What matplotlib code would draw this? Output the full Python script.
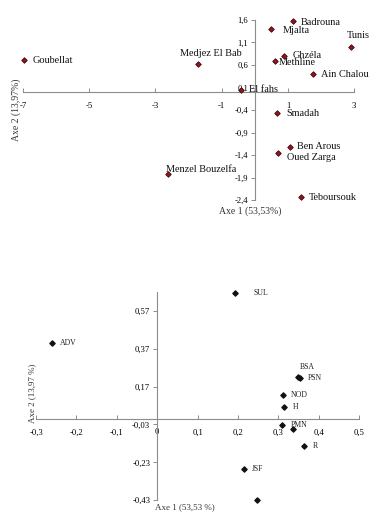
#!/usr/bin/env python3
"""
plot.py - two PCA-style factor maps (Axe 1 / Axe 2), regions on top,
variables below, Excel-like axes crossing at the origin.
"""
import matplotlib
matplotlib.use("Agg")
import matplotlib.pyplot as plt
from matplotlib.ticker import FuncFormatter

plt.rcParams["font.family"] = ["Liberation Serif", "DejaVu Serif"]

# ---------------------------------------------------------------- data
REGIONS = ["Goubellat", "Medjez El Bab", "El fahs", "Mjalta", "Badrouna",
           "Tunis", "Ghzéla", "Methline", "Ain Chalou", "Smadah",
           "Ben Arous", "Oued Zarga", "Menzel Bouzelfa", "Teboursouk"]
REG_X = [-6.98, -1.73, -0.42, 0.48, 1.14, 2.92, 0.88, 0.61, 1.76, 0.67,
         1.05, 0.70, -2.61, 1.40]
REG_Y = [0.71, 0.63, 0.05, 1.39, 1.57, 0.99, 0.79, 0.69, 0.40, -0.46,
         -1.21, -1.36, -1.82, -2.33]
REG_XTICKS = [-7, -5, -3, -1, 1, 3]
REG_YTICKS = [1.6, 1.1, 0.6, 0.1, -0.4, -0.9, -1.4, -1.9, -2.4]

VARS = ["SUL", "ADV", "BSA", "PSN", "NOD", "H", "PMN", "", "R", "JSF", ""]
VAR_X = [0.192, -0.261, 0.350, 0.354, 0.312, 0.315, 0.310, 0.336, 0.365,
         0.214, 0.248]
VAR_Y = [0.662, 0.398, 0.221, 0.215, 0.126, 0.064, -0.034, -0.055, -0.145,
         -0.267, -0.428]
VAR_XTICKS = [-0.3, -0.2, -0.1, 0, 0.1, 0.2, 0.3, 0.4, 0.5]
VAR_YTICKS = [-0.43, -0.23, -0.03, 0.17, 0.37, 0.57]

# label placement (pixel offsets from the point, ha, va)
REG_OFFSETS = {
    "Goubellat": (9, 0, "left", "center"),
    "Medjez El Bab": (13, 6, "center", "bottom"),
    "El fahs": (8, 0, "left", "center"),
    "Mjalta": (12, -1, "left", "center"),
    "Badrouna": (8, -1, "left", "center"),
    "Tunis": (7, 7, "center", "bottom"),
    "Ghzéla": (9, 1, "left", "center"),
    "Methline": (4, -2, "left", "center"),
    "Ain Chalou": (8, 0, "left", "center"),
    "Smadah": (9, -1, "left", "center"),
    "Ben Arous": (7, 0, "left", "center"),
    "Oued Zarga": (9, -4, "left", "center"),
    "Menzel Bouzelfa": (-2, 5, "left", "center"),
    "Teboursouk": (8, 0, "left", "center"),
}
VAR_OFFSETS = {
    "SUL": (19, 0, "left", "center"),
    "BSA": (9, 6, "center", "bottom"),
}

AXIS_GREY = "#8c8c8c"


def comma(v, _pos=None):
    s = f"{v:g}"
    return s.replace(".", ",")


def style_axes(ax, xlim, ylim, xticks, yticks):
    ax.set_xlim(*xlim)
    ax.set_ylim(*ylim)
    for side in ("top", "right"):
        ax.spines[side].set_visible(False)
    for side in ("left", "bottom"):
        ax.spines[side].set_position(("data", 0))
        ax.spines[side].set_color(AXIS_GREY)
        ax.spines[side].set_linewidth(0.8)
    ax.set_xticks(xticks)
    ax.set_yticks(yticks)
    ax.xaxis.set_major_formatter(FuncFormatter(comma))
    ax.yaxis.set_major_formatter(FuncFormatter(comma))
    ax.tick_params(axis="x", direction="in", length=3, width=0.7,
                   color=AXIS_GREY, labelsize=6.2, pad=7)
    ax.tick_params(axis="y", direction="out", length=3, width=0.7,
                   color=AXIS_GREY, labelsize=6.2, pad=2)
    ax.patch.set_alpha(0)


fig = plt.figure(figsize=(3.72, 5.12), dpi=100)

# ---------------------------------------------------------------- top map
ax1 = fig.add_axes([0.062, 0.609, 0.890, 0.352])
style_axes(ax1, (-7, 3), (-2.4, 1.6), REG_XTICKS, REG_YTICKS)
ax1.scatter(REG_X, REG_Y, marker="D", s=8, color="#9b1020",
            edgecolors="#3a0a0a", linewidths=0.6, zorder=3, clip_on=False)
for name, x, y in zip(REGIONS, REG_X, REG_Y):
    dx, dy, ha, va = REG_OFFSETS[name]
    ax1.annotate(name, (x, y), xytext=(dx, dy), textcoords="offset pixels",
                 ha=ha, va=va, fontsize=7.4, color="#111111")
fig.text(250 / 372, 1 - 211 / 512, "Axe 1 (53,53%)", ha="center",
         va="center", fontsize=7, color="#333333")
fig.text(16 / 372, 1 - 110 / 512, "Axe 2 (13,97%)", ha="center",
         va="center", rotation=90, fontsize=7, color="#333333")

# ---------------------------------------------------------------- bottom map
ax2 = fig.add_axes([0.097, 0.023, 0.868, 0.407])
style_axes(ax2, (-0.3, 0.5), (-0.43, 0.67), VAR_XTICKS, VAR_YTICKS)
ax2.scatter(VAR_X, VAR_Y, marker="D", s=7, color="#111111", zorder=3,
            clip_on=False)
for name, x, y in zip(VARS, VAR_X, VAR_Y):
    if not name:
        continue
    dx, dy, ha, va = VAR_OFFSETS.get(name, (8, 0, "left", "center"))
    ax2.annotate(name, (x, y), xytext=(dx, dy), textcoords="offset pixels",
                 ha=ha, va=va, fontsize=5.6, color="#222222")
fig.text(185 / 372, 1 - 507 / 512, "Axe 1 (53,53 %)", ha="center",
         va="center", fontsize=6.5, color="#333333")
fig.text(32 / 372, 1 - 393 / 512, "Axe 2 (13,97 %)", ha="center",
         va="center", rotation=90, fontsize=6.5, color="#333333")

fig.savefig("out.png", dpi=100)
plt.close(fig)
